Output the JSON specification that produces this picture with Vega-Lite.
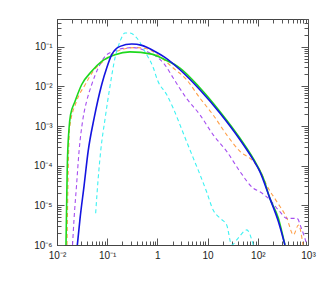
{
  "$schema": "https://vega.github.io/schema/vega-lite/v6.json",
  "width": 251,
  "height": 226,
  "autosize": {"type": "none"},
  "padding": {"left": 57, "top": 19, "right": 19, "bottom": 41},
  "config": {
    "view": {"stroke": "#444", "strokeWidth": 1},
    "axis": {"domainColor": "#444", "tickColor": "#555", "labelFont": "Liberation Sans", "labelFontSize": 10, "labelColor": "#222", "grid": false, "title": null, "labelOverlap": false, "labelBound": false, "labelFlush": false}
  },
  "data": {"values": [
    {"s": "orange", "x": 0.0158, "y": 1e-6},
    {"s": "orange", "x": 0.0178, "y": 8.9e-4},
    {"s": "orange", "x": 0.0245, "y": 4.2e-3},
    {"s": "orange", "x": 0.0363, "y": 1.1e-2},
    {"s": "orange", "x": 0.0525, "y": 2.4e-2},
    {"s": "orange", "x": 0.0832, "y": 4.27e-2},
    {"s": "orange", "x": 0.132, "y": 6.9e-2},
    {"s": "orange", "x": 0.226, "y": 8.9e-2},
    {"s": "orange", "x": 0.355, "y": 9.5e-2},
    {"s": "orange", "x": 0.617, "y": 8.9e-2},
    {"s": "orange", "x": 1.15, "y": 5.5e-2},
    {"s": "orange", "x": 2.07, "y": 2.9e-2},
    {"s": "orange", "x": 3.8, "y": 1.48e-2},
    {"s": "orange", "x": 7.08, "y": 5.0e-3},
    {"s": "orange", "x": 12.9, "y": 1.9e-3},
    {"s": "orange", "x": 24, "y": 6.0e-4},
    {"s": "orange", "x": 44.2, "y": 2.3e-4},
    {"s": "orange", "x": 81.3, "y": 1.29e-4},
    {"s": "orange", "x": 110, "y": 7.8e-5},
    {"s": "orange", "x": 151, "y": 3.2e-5},
    {"s": "orange", "x": 240, "y": 1.23e-5},
    {"s": "orange", "x": 380, "y": 4.7e-6},
    {"s": "orange", "x": 513, "y": 1.8e-6},
    {"s": "orange", "x": 646, "y": 3.2e-6},
    {"s": "orange", "x": 794, "y": 1e-6},
    {"s": "purple", "x": 0.0204, "y": 1e-6},
    {"s": "purple", "x": 0.0219, "y": 4.7e-6},
    {"s": "purple", "x": 0.0245, "y": 3.2e-5},
    {"s": "purple", "x": 0.0275, "y": 2.3e-4},
    {"s": "purple", "x": 0.0331, "y": 1.6e-3},
    {"s": "purple", "x": 0.0389, "y": 4.2e-3},
    {"s": "purple", "x": 0.049, "y": 1.1e-2},
    {"s": "purple", "x": 0.0661, "y": 2.9e-2},
    {"s": "purple", "x": 0.0912, "y": 5.75e-2},
    {"s": "purple", "x": 0.132, "y": 7.6e-2},
    {"s": "purple", "x": 0.209, "y": 9.1e-2},
    {"s": "purple", "x": 0.331, "y": 9.5e-2},
    {"s": "purple", "x": 0.617, "y": 7.6e-2},
    {"s": "purple", "x": 1.41, "y": 3.5e-2},
    {"s": "purple", "x": 2.07, "y": 1.62e-2},
    {"s": "purple", "x": 3.8, "y": 5.0e-3},
    {"s": "purple", "x": 7.08, "y": 1.9e-3},
    {"s": "purple", "x": 12.9, "y": 6.0e-4},
    {"s": "purple", "x": 24, "y": 2.3e-4},
    {"s": "purple", "x": 44.2, "y": 7.1e-5},
    {"s": "purple", "x": 81.3, "y": 2.7e-5},
    {"s": "purple", "x": 110, "y": 2.2e-5},
    {"s": "purple", "x": 174, "y": 1.38e-5},
    {"s": "purple", "x": 275, "y": 6.9e-6},
    {"s": "purple", "x": 380, "y": 4.7e-6},
    {"s": "purple", "x": 603, "y": 4.7e-6},
    {"s": "purple", "x": 741, "y": 2.6e-6},
    {"s": "purple", "x": 955, "y": 1e-6},
    {"s": "cyan", "x": 0.0589, "y": 6.3e-6},
    {"s": "cyan", "x": 0.0631, "y": 2.2e-5},
    {"s": "cyan", "x": 0.0741, "y": 2.3e-4},
    {"s": "cyan", "x": 0.0912, "y": 1.6e-3},
    {"s": "cyan", "x": 0.115, "y": 1.1e-2},
    {"s": "cyan", "x": 0.143, "y": 5.2e-2},
    {"s": "cyan", "x": 0.18, "y": 0.136},
    {"s": "cyan", "x": 0.226, "y": 0.221},
    {"s": "cyan", "x": 0.284, "y": 0.221},
    {"s": "cyan", "x": 0.389, "y": 0.166},
    {"s": "cyan", "x": 0.562, "y": 7.6e-2},
    {"s": "cyan", "x": 0.832, "y": 2.9e-2},
    {"s": "cyan", "x": 1.0, "y": 1.45e-2},
    {"s": "cyan", "x": 1.53, "y": 6.2e-3},
    {"s": "cyan", "x": 2.07, "y": 2.8e-3},
    {"s": "cyan", "x": 2.82, "y": 1.07e-3},
    {"s": "cyan", "x": 3.8, "y": 4.1e-4},
    {"s": "cyan", "x": 5.19, "y": 1.55e-4},
    {"s": "cyan", "x": 7.08, "y": 5.9e-5},
    {"s": "cyan", "x": 9.55, "y": 2.2e-5},
    {"s": "cyan", "x": 12.9, "y": 7.6e-6},
    {"s": "cyan", "x": 17.8, "y": 4.7e-6},
    {"s": "cyan", "x": 24, "y": 3.2e-6},
    {"s": "cyan", "x": 30.2, "y": 1e-6},
    {"s": "cyan", "x": 40.7, "y": 1.5e-6},
    {"s": "cyan", "x": 60.3, "y": 2.4e-6},
    {"s": "cyan", "x": 81.3, "y": 1e-6},
    {"s": "green", "x": 0.0151, "y": 1e-6},
    {"s": "green", "x": 0.016, "y": 8.7e-5},
    {"s": "green", "x": 0.0174, "y": 8.9e-4},
    {"s": "green", "x": 0.0186, "y": 1.9e-3},
    {"s": "green", "x": 0.0229, "y": 4.2e-3},
    {"s": "green", "x": 0.0309, "y": 1.1e-2},
    {"s": "green", "x": 0.049, "y": 2.4e-2},
    {"s": "green", "x": 0.0776, "y": 4.27e-2},
    {"s": "green", "x": 0.143, "y": 6.3e-2},
    {"s": "green", "x": 0.284, "y": 7.4e-2},
    {"s": "green", "x": 0.771, "y": 6.5e-2},
    {"s": "green", "x": 1.41, "y": 4.7e-2},
    {"s": "green", "x": 2.82, "y": 2.9e-2},
    {"s": "green", "x": 7.08, "y": 9.1e-3},
    {"s": "green", "x": 17.7, "y": 2.3e-3},
    {"s": "green", "x": 44.2, "y": 4.9e-4},
    {"s": "green", "x": 95.5, "y": 1.05e-4},
    {"s": "green", "x": 129, "y": 4.8e-5},
    {"s": "green", "x": 174, "y": 1.5e-5},
    {"s": "green", "x": 257, "y": 4.7e-6},
    {"s": "green", "x": 347, "y": 1e-6},
    {"s": "blue", "x": 0.0254, "y": 1e-6},
    {"s": "blue", "x": 0.0288, "y": 4.7e-6},
    {"s": "blue", "x": 0.0347, "y": 3.2e-5},
    {"s": "blue", "x": 0.0417, "y": 2.3e-4},
    {"s": "blue", "x": 0.055, "y": 1.6e-3},
    {"s": "blue", "x": 0.0776, "y": 1.1e-2},
    {"s": "blue", "x": 0.0977, "y": 2.9e-2},
    {"s": "blue", "x": 0.123, "y": 6.3e-2},
    {"s": "blue", "x": 0.18, "y": 0.102},
    {"s": "blue", "x": 0.309, "y": 0.117},
    {"s": "blue", "x": 0.49, "y": 0.108},
    {"s": "blue", "x": 0.895, "y": 0.076},
    {"s": "blue", "x": 1.41, "y": 0.054},
    {"s": "blue", "x": 2.82, "y": 0.0263},
    {"s": "blue", "x": 7.08, "y": 8.1e-3},
    {"s": "blue", "x": 17.7, "y": 2.1e-3},
    {"s": "blue", "x": 44.2, "y": 4.5e-4},
    {"s": "blue", "x": 81.3, "y": 1.4e-4},
    {"s": "blue", "x": 110, "y": 7.1e-5},
    {"s": "blue", "x": 174, "y": 1.5e-5},
    {"s": "blue", "x": 257, "y": 3.9e-6},
    {"s": "blue", "x": 347, "y": 1e-6}
  ]},
  "layer": [
    {
      "transform": [{"filter": "datum.s == 'orange' || datum.s == 'purple' || datum.s == 'cyan'"}],
      "mark": {"type": "line", "clip": true, "strokeDash": [4, 3], "strokeWidth": 1.1, "interpolate": "monotone"},
      "encoding": {
        "x": {"field": "x", "type": "quantitative",
          "scale": {"type": "log", "domain": [0.01, 1000], "nice": false},
          "axis": {"orient": "bottom", "labelPadding": 12,
            "values": [0.01,0.02,0.03,0.04,0.05,0.06,0.07,0.08,0.09,0.1,0.2,0.3,0.4,0.5,0.6,0.7,0.8,0.9,1,2,3,4,5,6,7,8,9,10,20,30,40,50,60,70,80,90,100,200,300,400,500,600,700,800,900,1000],
            "labelExpr": "abs(log(datum.value)/LN10-round(log(datum.value)/LN10))<0.01 ? ['10⁻⁶','10⁻⁵','10⁻⁴','10⁻³','10⁻²','10⁻¹','1','10','10²','10³'][round(log(datum.value)/LN10)+6] : ''",
            "tickSize": {"condition": {"test": "abs(log(datum.value)/LN10-round(log(datum.value)/LN10))<0.01", "value": -7}, "value": -4}}},
        "y": {"field": "y", "type": "quantitative",
          "scale": {"type": "log", "domain": [1e-6, 0.5], "nice": false},
          "axis": {"orient": "left", "labelPadding": 12,
            "values": [1e-6,2e-6,3e-6,4e-6,5e-6,6e-6,7e-6,8e-6,9e-6,1e-5,2e-5,3e-5,4e-5,5e-5,6e-5,7e-5,8e-5,9e-5,1e-4,2e-4,3e-4,4e-4,5e-4,6e-4,7e-4,8e-4,9e-4,1e-3,2e-3,3e-3,4e-3,5e-3,6e-3,7e-3,8e-3,9e-3,1e-2,2e-2,3e-2,4e-2,5e-2,6e-2,7e-2,8e-2,9e-2,0.1,0.2,0.3,0.4,0.5],
            "labelExpr": "abs(log(datum.value)/LN10-round(log(datum.value)/LN10))<0.01 ? ['10⁻⁶','10⁻⁵','10⁻⁴','10⁻³','10⁻²','10⁻¹','1','10','10²','10³'][round(log(datum.value)/LN10)+6] : ''",
            "tickSize": {"condition": {"test": "abs(log(datum.value)/LN10-round(log(datum.value)/LN10))<0.01", "value": -7}, "value": -4}}},
        "color": {"field": "s", "type": "nominal", "legend": null,
          "scale": {"domain": ["orange", "purple", "cyan", "green", "blue"], "range": ["#ffa04a", "#a64ff0", "#3ef2f2", "#1ed81e", "#1414e0"]}}
      }
    },
    {
      "transform": [{"filter": "datum.s == 'green' || datum.s == 'blue'"}],
      "mark": {"type": "line", "clip": true, "strokeWidth": 1.6, "interpolate": "monotone"},
      "encoding": {
        "x": {"field": "x", "type": "quantitative",
          "scale": {"type": "log", "domain": [0.01, 1000], "nice": false},
          "axis": {"orient": "top", "labels": false, "domain": false,
            "values": [0.01,0.02,0.03,0.04,0.05,0.06,0.07,0.08,0.09,0.1,0.2,0.3,0.4,0.5,0.6,0.7,0.8,0.9,1,2,3,4,5,6,7,8,9,10,20,30,40,50,60,70,80,90,100,200,300,400,500,600,700,800,900,1000],
            "tickSize": {"condition": {"test": "abs(log(datum.value)/LN10-round(log(datum.value)/LN10))<0.01", "value": -7}, "value": -4}}},
        "y": {"field": "y", "type": "quantitative",
          "scale": {"type": "log", "domain": [1e-6, 0.5], "nice": false},
          "axis": {"orient": "right", "labels": false, "domain": false,
            "values": [1e-6,2e-6,3e-6,4e-6,5e-6,6e-6,7e-6,8e-6,9e-6,1e-5,2e-5,3e-5,4e-5,5e-5,6e-5,7e-5,8e-5,9e-5,1e-4,2e-4,3e-4,4e-4,5e-4,6e-4,7e-4,8e-4,9e-4,1e-3,2e-3,3e-3,4e-3,5e-3,6e-3,7e-3,8e-3,9e-3,1e-2,2e-2,3e-2,4e-2,5e-2,6e-2,7e-2,8e-2,9e-2,0.1,0.2,0.3,0.4,0.5],
            "tickSize": {"condition": {"test": "abs(log(datum.value)/LN10-round(log(datum.value)/LN10))<0.01", "value": -7}, "value": -4}}},
        "color": {"field": "s", "type": "nominal", "legend": null,
          "scale": {"domain": ["orange", "purple", "cyan", "green", "blue"], "range": ["#ffa04a", "#a64ff0", "#3ef2f2", "#1ed81e", "#1414e0"]}}
      }
    }
  ],
  "resolve": {"axis": {"x": "independent", "y": "independent"}}
}
